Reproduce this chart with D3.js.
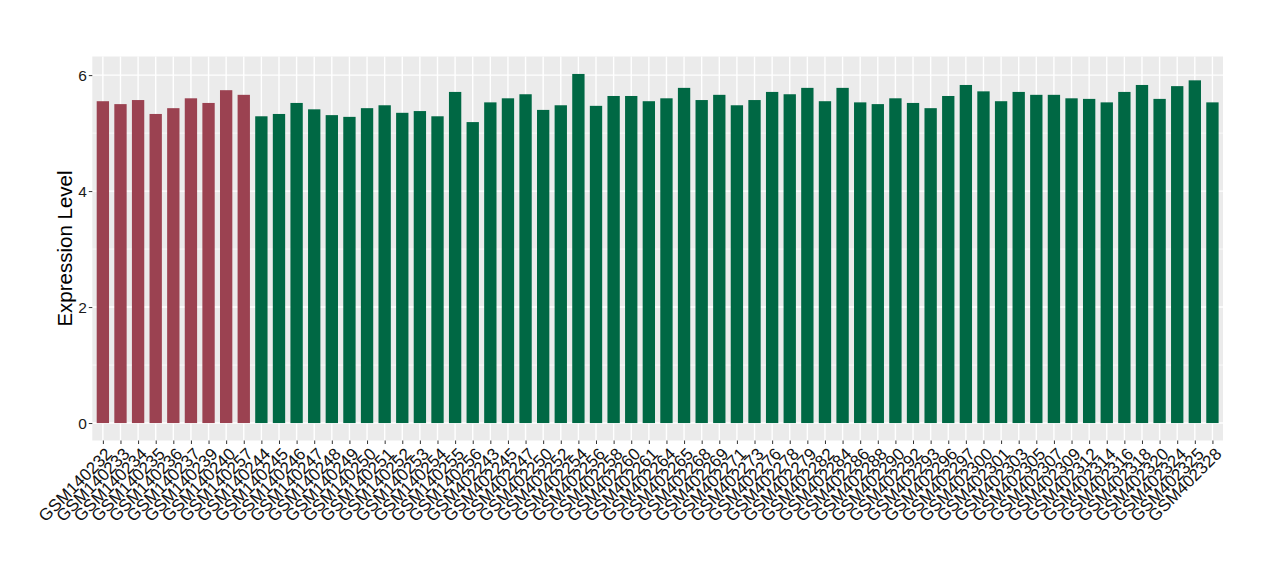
<!DOCTYPE html>
<html>
<head>
<meta charset="utf-8">
<script src="https://cdn.jsdelivr.net/npm/d3@7"></script>
<style>
  body { margin: 0; background: #fff; }
  svg text { font-family: "Liberation Sans", Arial, sans-serif; }
</style>
</head>
<body>
<svg width="1280" height="580"></svg>
<script>
// samples, in plot order
var samples = ["GSM140232","GSM140233","GSM140234","GSM140235","GSM140236","GSM140237","GSM140239","GSM140240","GSM140257",
  "GSM140244","GSM140245","GSM140246","GSM140247","GSM140248","GSM140249","GSM140250","GSM140251","GSM140252","GSM140253",
  "GSM140254","GSM140255","GSM140256","GSM402243","GSM402245","GSM402247","GSM402250","GSM402252","GSM402254","GSM402256",
  "GSM402258","GSM402260","GSM402261","GSM402264","GSM402265","GSM402268","GSM402269","GSM402271","GSM402273","GSM402276",
  "GSM402278","GSM402279","GSM402282","GSM402284","GSM402286","GSM402288","GSM402290","GSM402292","GSM402293","GSM402296",
  "GSM402297","GSM402300","GSM402301","GSM402303","GSM402305","GSM402307","GSM402309","GSM402312","GSM402314","GSM402316",
  "GSM402318","GSM402320","GSM402324","GSM402325","GSM402328"];

var values = [5.55,5.50,5.57,5.33,5.43,5.60,5.52,5.74,5.66,
  5.29,5.33,5.52,5.41,5.31,5.28,5.43,5.48,5.35,5.38,
  5.29,5.71,5.19,5.53,5.60,5.67,5.40,5.48,6.02,5.47,
  5.64,5.64,5.55,5.60,5.78,5.57,5.66,5.48,5.57,5.71,
  5.67,5.78,5.55,5.78,5.53,5.50,5.60,5.52,5.43,5.64,
  5.83,5.72,5.55,5.71,5.66,5.66,5.60,5.59,5.53,5.71,
  5.83,5.59,5.81,5.91,5.53];

// group of each sample (first 9 are the red group)
var groups = samples.map(function(d, i){ return i < 9 ? "A" : "B"; });
var groupColors = {"A": "#9B4251", "B": "#006844"};

var yTicks = [0, 2, 4, 6];
var yMinor = [1, 3, 5];

var svg = d3.select("svg");
var pLeft = 92.3, pRight = 1223, pTop = 56.5, pBottom = 440.5;

var ymax = d3.max(values);
var pad = ymax * 0.05;
var y = d3.scaleLinear().domain([-pad, ymax + pad]).range([pBottom, pTop]);
var x = d3.scalePoint().domain(samples).range([pLeft, pRight]).padding(0.6);
var barW = x.step() * 0.7;

// panel
svg.append("rect")
    .attr("x", pLeft).attr("y", pTop)
    .attr("width", pRight - pLeft).attr("height", pBottom - pTop)
    .attr("fill", "#EBEBEB");

svg.selectAll("line.minor")
    .data(yMinor)
  .enter().append("line")
    .attr("x1", pLeft).attr("x2", pRight)
    .attr("y1", function(d){ return y(d); }).attr("y2", function(d){ return y(d); })
    .attr("stroke", "#fff").attr("stroke-width", 0.7);

svg.selectAll("line.majory")
    .data(yTicks)
  .enter().append("line")
    .attr("x1", pLeft).attr("x2", pRight)
    .attr("y1", function(d){ return y(d); }).attr("y2", function(d){ return y(d); })
    .attr("stroke", "#fff").attr("stroke-width", 1.4);

svg.selectAll("line.majorx")
    .data(samples)
  .enter().append("line")
    .attr("x1", function(d){ return x(d); }).attr("x2", function(d){ return x(d); })
    .attr("y1", pTop).attr("y2", pBottom)
    .attr("stroke", "#fff").attr("stroke-width", 1.4);

// bars
svg.selectAll("rect.bar")
    .data(values)
  .enter().append("rect")
    .attr("x", function(d, i){ return x(samples[i]) - barW / 2; })
    .attr("width", barW)
    .attr("y", function(d){ return y(d); })
    .attr("height", function(d){ return y(0) - y(d); })
    .attr("fill", function(d, i){ return groupColors[groups[i]]; });

// y axis
var yAxis = svg.append("g")
    .attr("transform", "translate(" + pLeft + ",0)")
    .call(d3.axisLeft(y).tickValues(yTicks).tickSize(3.5).tickPadding(2).tickFormat(d3.format("d")));
yAxis.select(".domain").remove();
yAxis.selectAll("line").attr("stroke", "#333");
yAxis.selectAll("text").attr("font-size", "15.5px").attr("fill", "#1a1a1a")
    .style("font-family", "Liberation Sans, Arial, sans-serif");

// x axis
var xAxis = svg.append("g")
    .attr("transform", "translate(0," + pBottom + ")")
    .call(d3.axisBottom(x).tickSize(3.5).tickFormat(""));
xAxis.select(".domain").remove();
xAxis.selectAll("line").attr("stroke", "#333");

svg.selectAll("text.xlab")
    .data(samples)
  .enter().append("text")
    .attr("transform", function(d){ return "translate(" + (x(d) + 1.5) + "," + (pBottom + 6) + ") rotate(-45)"; })
    .attr("text-anchor", "end")
    .attr("dy", "0.72em")
    .attr("font-size", "17px")
    .attr("fill", "#111")
    .text(function(d){ return d; });

// y title
svg.append("text")
    .attr("transform", "translate(72," + ((pTop + pBottom) / 2) + ") rotate(-90)")
    .attr("text-anchor", "middle")
    .attr("font-size", "20.5px")
    .attr("fill", "#000")
    .text("Expression Level");
</script>
</body>
</html>
